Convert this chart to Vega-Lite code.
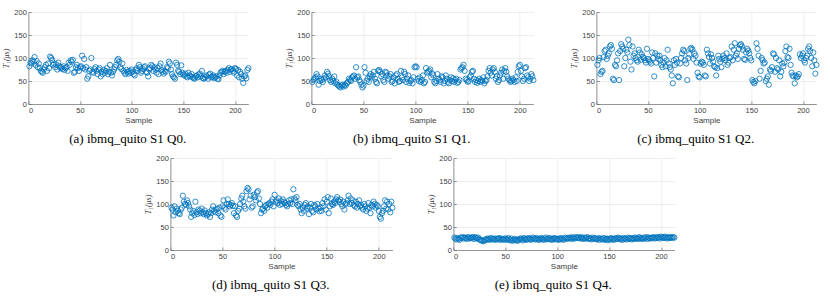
{
"$schema": "https://vega.github.io/schema/vega-lite/v6.json",
"background": "white",
"padding": {"left": 2, "top": 8, "right": 5, "bottom": 4},
"datasets": {"t1": [
{"s":1,"a":82,"b":48,"c":85,"d":92,"e":27},{"s":2,"a":90,"b":52,"c":95,"d":88,"e":25},{"s":3,"a":88,"b":55,"c":100,"d":75,"e":23},{"s":4,"a":95,"b":58,"c":65,"d":95,"e":26},{"s":5,"a":92,"b":65,"c":70,"d":82,"e":24},{"s":6,"a":102,"b":60,"c":72,"d":90,"e":22},{"s":7,"a":85,"b":42,"c":102,"d":85,"e":27},{"s":8,"a":93,"b":50,"c":115,"d":80,"e":26},{"s":9,"a":80,"b":55,"c":118,"d":78,"e":28},{"s":10,"a":88,"b":52,"c":98,"d":88,"e":25},
{"s":11,"a":78,"b":48,"c":105,"d":92,"e":27},{"s":12,"a":72,"b":55,"c":110,"d":118,"e":26},{"s":13,"a":70,"b":62,"c":125,"d":105,"e":24},{"s":14,"a":68,"b":58,"c":128,"d":100,"e":28},{"s":15,"a":75,"b":70,"c":120,"d":98,"e":27},{"s":16,"a":80,"b":66,"c":55,"d":108,"e":25},{"s":17,"a":85,"b":60,"c":52,"d":102,"e":26},{"s":18,"a":72,"b":52,"c":85,"d":95,"e":28},{"s":19,"a":88,"b":48,"c":82,"d":88,"e":27},{"s":20,"a":78,"b":55,"c":95,"d":72,"e":24},
{"s":21,"a":103,"b":50,"c":110,"d":80,"e":28},{"s":22,"a":100,"b":60,"c":52,"d":85,"e":26},{"s":23,"a":96,"b":45,"c":115,"d":76,"e":25},{"s":24,"a":85,"b":48,"c":130,"d":105,"e":27},{"s":25,"a":88,"b":42,"c":125,"d":82,"e":23},{"s":26,"a":80,"b":40,"c":120,"d":78,"e":22},{"s":27,"a":86,"b":38,"c":82,"d":88,"e":21},{"s":28,"a":75,"b":36,"c":100,"d":85,"e":20},{"s":29,"a":90,"b":40,"c":118,"d":80,"e":19},{"s":30,"a":82,"b":42,"c":112,"d":90,"e":21},
{"s":31,"a":78,"b":38,"c":140,"d":82,"e":23},{"s":32,"a":80,"b":42,"c":128,"d":78,"e":22},{"s":33,"a":76,"b":40,"c":92,"d":86,"e":25},{"s":34,"a":82,"b":45,"c":75,"d":80,"e":24},{"s":35,"a":74,"b":48,"c":125,"d":75,"e":22},{"s":36,"a":78,"b":55,"c":105,"d":78,"e":26},{"s":37,"a":80,"b":52,"c":110,"d":82,"e":23},{"s":38,"a":72,"b":50,"c":100,"d":72,"e":25},{"s":39,"a":90,"b":58,"c":95,"d":80,"e":24},{"s":40,"a":85,"b":60,"c":92,"d":88,"e":22},
{"s":41,"a":95,"b":62,"c":118,"d":95,"e":25},{"s":42,"a":92,"b":55,"c":112,"d":85,"e":23},{"s":43,"a":96,"b":80,"c":96,"d":82,"e":24},{"s":44,"a":68,"b":58,"c":108,"d":88,"e":26},{"s":45,"a":70,"b":60,"c":102,"d":90,"e":22},{"s":46,"a":80,"b":52,"c":100,"d":80,"e":25},{"s":47,"a":85,"b":48,"c":95,"d":92,"e":23},{"s":48,"a":78,"b":42,"c":90,"d":75,"e":24},{"s":49,"a":72,"b":36,"c":120,"d":72,"e":22},{"s":50,"a":80,"b":40,"c":98,"d":95,"e":25},
{"s":51,"a":82,"b":80,"c":95,"d":108,"e":24},{"s":52,"a":105,"b":68,"c":92,"d":92,"e":22},{"s":53,"a":78,"b":50,"c":88,"d":88,"e":26},{"s":54,"a":98,"b":55,"c":112,"d":100,"e":23},{"s":55,"a":75,"b":48,"c":100,"d":110,"e":21},{"s":56,"a":80,"b":60,"c":60,"d":100,"e":25},{"s":57,"a":55,"b":65,"c":110,"d":95,"e":20},{"s":58,"a":60,"b":58,"c":90,"d":98,"e":22},{"s":59,"a":72,"b":62,"c":105,"d":102,"e":24},{"s":60,"a":75,"b":70,"c":98,"d":96,"e":21},
{"s":61,"a":100,"b":55,"c":105,"d":80,"e":23},{"s":62,"a":70,"b":48,"c":95,"d":95,"e":20},{"s":63,"a":68,"b":45,"c":85,"d":75,"e":22},{"s":64,"a":76,"b":72,"c":80,"d":72,"e":24},{"s":65,"a":80,"b":74,"c":90,"d":85,"e":25},{"s":66,"a":72,"b":70,"c":100,"d":90,"e":23},{"s":67,"a":65,"b":60,"c":82,"d":100,"e":21},{"s":68,"a":75,"b":65,"c":95,"d":112,"e":26},{"s":69,"a":78,"b":52,"c":118,"d":118,"e":24},{"s":70,"a":60,"b":48,"c":88,"d":105,"e":22},
{"s":71,"a":70,"b":70,"c":80,"d":95,"e":25},{"s":72,"a":65,"b":68,"c":75,"d":90,"e":23},{"s":73,"a":74,"b":62,"c":62,"d":128,"e":26},{"s":74,"a":68,"b":55,"c":45,"d":135,"e":24},{"s":75,"a":72,"b":60,"c":95,"d":132,"e":22},{"s":76,"a":78,"b":65,"c":85,"d":110,"e":25},{"s":77,"a":65,"b":48,"c":98,"d":118,"e":27},{"s":78,"a":70,"b":50,"c":90,"d":92,"e":24},{"s":79,"a":85,"b":58,"c":60,"d":95,"e":23},{"s":80,"a":68,"b":45,"c":58,"d":120,"e":26},
{"s":81,"a":62,"b":62,"c":88,"d":115,"e":24},{"s":82,"a":70,"b":65,"c":100,"d":108,"e":22},{"s":83,"a":75,"b":55,"c":110,"d":125,"e":25},{"s":84,"a":80,"b":48,"c":118,"d":128,"e":23},{"s":85,"a":85,"b":50,"c":115,"d":112,"e":26},{"s":86,"a":95,"b":72,"c":95,"d":100,"e":24},{"s":87,"a":98,"b":58,"c":88,"d":80,"e":22},{"s":88,"a":92,"b":52,"c":52,"d":88,"e":25},{"s":89,"a":80,"b":70,"c":100,"d":90,"e":27},{"s":90,"a":76,"b":65,"c":108,"d":85,"e":23},
{"s":91,"a":88,"b":48,"c":120,"d":95,"e":24},{"s":92,"a":72,"b":55,"c":122,"d":98,"e":26},{"s":93,"a":68,"b":62,"c":118,"d":92,"e":23},{"s":94,"a":65,"b":46,"c":98,"d":100,"e":25},{"s":95,"a":74,"b":50,"c":110,"d":102,"e":22},{"s":96,"a":70,"b":52,"c":105,"d":98,"e":24},{"s":97,"a":66,"b":45,"c":90,"d":105,"e":26},{"s":98,"a":72,"b":58,"c":68,"d":110,"e":23},{"s":99,"a":68,"b":80,"c":60,"d":95,"e":25},{"s":100,"a":75,"b":82,"c":58,"d":120,"e":24},
{"s":101,"a":70,"b":80,"c":88,"d":105,"e":22},{"s":102,"a":65,"b":55,"c":92,"d":108,"e":25},{"s":103,"a":62,"b":50,"c":90,"d":102,"e":23},{"s":104,"a":74,"b":58,"c":85,"d":112,"e":26},{"s":105,"a":78,"b":48,"c":62,"d":98,"e":24},{"s":106,"a":72,"b":52,"c":60,"d":106,"e":22},{"s":107,"a":85,"b":62,"c":118,"d":100,"e":25},{"s":108,"a":80,"b":45,"c":110,"d":110,"e":27},{"s":109,"a":68,"b":48,"c":102,"d":105,"e":24},{"s":110,"a":72,"b":78,"c":88,"d":102,"e":26},
{"s":111,"a":76,"b":68,"c":108,"d":98,"e":25},{"s":112,"a":80,"b":70,"c":100,"d":95,"e":27},{"s":113,"a":82,"b":72,"c":92,"d":100,"e":26},{"s":114,"a":70,"b":75,"c":82,"d":108,"e":24},{"s":115,"a":68,"b":58,"c":80,"d":102,"e":28},{"s":116,"a":60,"b":66,"c":62,"d":110,"e":26},{"s":117,"a":75,"b":62,"c":78,"d":100,"e":25},{"s":118,"a":78,"b":48,"c":105,"d":132,"e":27},{"s":119,"a":85,"b":45,"c":98,"d":112,"e":28},{"s":120,"a":82,"b":50,"c":92,"d":108,"e":26},
{"s":121,"a":72,"b":65,"c":80,"d":115,"e":27},{"s":122,"a":80,"b":55,"c":98,"d":98,"e":25},{"s":123,"a":75,"b":52,"c":105,"d":95,"e":28},{"s":124,"a":68,"b":48,"c":100,"d":100,"e":26},{"s":125,"a":78,"b":60,"c":95,"d":88,"e":24},{"s":126,"a":65,"b":58,"c":110,"d":80,"e":27},{"s":127,"a":82,"b":45,"c":85,"d":92,"e":25},{"s":128,"a":88,"b":50,"c":90,"d":85,"e":26},{"s":129,"a":74,"b":62,"c":100,"d":98,"e":28},{"s":130,"a":70,"b":55,"c":102,"d":102,"e":24},
{"s":131,"a":66,"b":48,"c":125,"d":90,"e":26},{"s":132,"a":72,"b":45,"c":95,"d":95,"e":25},{"s":133,"a":70,"b":52,"c":118,"d":78,"e":23},{"s":134,"a":80,"b":58,"c":132,"d":92,"e":27},{"s":135,"a":78,"b":50,"c":105,"d":100,"e":24},{"s":136,"a":92,"b":56,"c":110,"d":85,"e":26},{"s":137,"a":88,"b":48,"c":98,"d":82,"e":25},{"s":138,"a":75,"b":52,"c":120,"d":98,"e":23},{"s":139,"a":65,"b":55,"c":128,"d":95,"e":24},{"s":140,"a":60,"b":46,"c":130,"d":88,"e":26},
{"s":141,"a":58,"b":48,"c":125,"d":100,"e":22},{"s":142,"a":55,"b":52,"c":118,"d":90,"e":25},{"s":143,"a":90,"b":75,"c":98,"d":84,"e":24},{"s":144,"a":85,"b":78,"c":96,"d":92,"e":23},{"s":145,"a":72,"b":80,"c":112,"d":85,"e":26},{"s":146,"a":70,"b":85,"c":120,"d":102,"e":22},{"s":147,"a":65,"b":72,"c":116,"d":95,"e":24},{"s":148,"a":84,"b":55,"c":110,"d":110,"e":25},{"s":149,"a":68,"b":52,"c":100,"d":88,"e":21},{"s":150,"a":64,"b":48,"c":95,"d":105,"e":24},
{"s":151,"a":62,"b":50,"c":52,"d":115,"e":23},{"s":152,"a":66,"b":58,"c":48,"d":80,"e":26},{"s":153,"a":60,"b":62,"c":45,"d":95,"e":24},{"s":154,"a":58,"b":70,"c":50,"d":112,"e":22},{"s":155,"a":68,"b":72,"c":132,"d":100,"e":25},{"s":156,"a":62,"b":55,"c":120,"d":98,"e":23},{"s":157,"a":60,"b":48,"c":105,"d":105,"e":26},{"s":158,"a":65,"b":52,"c":55,"d":102,"e":24},{"s":159,"a":58,"b":46,"c":72,"d":110,"e":27},{"s":160,"a":56,"b":50,"c":100,"d":115,"e":25},
{"s":161,"a":55,"b":55,"c":95,"d":108,"e":23},{"s":162,"a":60,"b":48,"c":88,"d":105,"e":25},{"s":163,"a":62,"b":52,"c":90,"d":110,"e":22},{"s":164,"a":58,"b":50,"c":50,"d":100,"e":26},{"s":165,"a":64,"b":58,"c":55,"d":95,"e":24},{"s":166,"a":66,"b":45,"c":60,"d":105,"e":25},{"s":167,"a":60,"b":50,"c":42,"d":88,"e":23},{"s":168,"a":72,"b":52,"c":75,"d":100,"e":27},{"s":169,"a":56,"b":60,"c":72,"d":102,"e":24},{"s":170,"a":55,"b":72,"c":80,"d":108,"e":26},
{"s":171,"a":58,"b":78,"c":110,"d":118,"e":25},{"s":172,"a":62,"b":68,"c":108,"d":100,"e":23},{"s":173,"a":60,"b":62,"c":70,"d":112,"e":26},{"s":174,"a":55,"b":75,"c":100,"d":102,"e":24},{"s":175,"a":64,"b":78,"c":78,"d":108,"e":27},{"s":176,"a":66,"b":70,"c":75,"d":98,"e":25},{"s":177,"a":58,"b":55,"c":95,"d":95,"e":26},{"s":178,"a":60,"b":60,"c":60,"d":105,"e":24},{"s":179,"a":62,"b":48,"c":70,"d":92,"e":28},{"s":180,"a":56,"b":52,"c":88,"d":100,"e":25},
{"s":181,"a":58,"b":62,"c":82,"d":108,"e":26},{"s":182,"a":60,"b":68,"c":90,"d":95,"e":24},{"s":183,"a":55,"b":75,"c":115,"d":98,"e":27},{"s":184,"a":54,"b":55,"c":125,"d":92,"e":25},{"s":185,"a":62,"b":72,"c":102,"d":88,"e":26},{"s":186,"a":68,"b":78,"c":100,"d":100,"e":28},{"s":187,"a":70,"b":70,"c":120,"d":95,"e":24},{"s":188,"a":72,"b":60,"c":85,"d":85,"e":27},{"s":189,"a":65,"b":55,"c":68,"d":90,"e":26},{"s":190,"a":70,"b":52,"c":62,"d":102,"e":25},
{"s":191,"a":72,"b":48,"c":60,"d":92,"e":27},{"s":192,"a":68,"b":50,"c":45,"d":80,"e":26},{"s":193,"a":74,"b":55,"c":62,"d":98,"e":28},{"s":194,"a":78,"b":52,"c":58,"d":95,"e":25},{"s":195,"a":70,"b":48,"c":60,"d":105,"e":27},{"s":196,"a":75,"b":58,"c":65,"d":100,"e":26},{"s":197,"a":76,"b":50,"c":108,"d":92,"e":28},{"s":198,"a":72,"b":70,"c":100,"d":98,"e":27},{"s":199,"a":68,"b":82,"c":105,"d":95,"e":25},{"s":200,"a":78,"b":85,"c":110,"d":85,"e":29},
{"s":201,"a":76,"b":72,"c":95,"d":72,"e":27},{"s":202,"a":62,"b":60,"c":90,"d":68,"e":28},{"s":203,"a":74,"b":50,"c":100,"d":80,"e":26},{"s":204,"a":58,"b":55,"c":105,"d":85,"e":29},{"s":205,"a":70,"b":78,"c":120,"d":95,"e":27},{"s":206,"a":65,"b":80,"c":125,"d":108,"e":25},{"s":207,"a":55,"b":62,"c":115,"d":90,"e":28},{"s":208,"a":46,"b":58,"c":100,"d":105,"e":26},{"s":209,"a":60,"b":50,"c":82,"d":88,"e":27},{"s":210,"a":62,"b":55,"c":112,"d":100,"e":28},
{"s":211,"a":56,"b":65,"c":95,"d":82,"e":26},{"s":212,"a":74,"b":60,"c":66,"d":105,"e":28},{"s":213,"a":78,"b":52,"c":85,"d":92,"e":27}
]},
"config": {
  "view": {"stroke": null},
  "axis": {
    "labelFont": "Liberation Sans", "labelFontSize": 7.5, "labelColor": "#404040", "labelPadding": 5,
    "titleFont": "Liberation Sans", "titleFontSize": 8, "titleFontWeight": "normal", "titleColor": "#404040", "titlePadding": 3,
    "gridColor": "#e3e3e3", "gridWidth": 0.6, "domainColor": "#6e6e6e", "domainWidth": 0.7,
    "ticks": true, "tickSize": -3, "tickColor": "#6e6e6e", "tickWidth": 0.7
  },
  "title": {"font": "Liberation Serif", "fontSize": 13, "fontWeight": "normal", "color": "#000000", "orient": "bottom", "offset": 8, "frame": "bounds", "anchor": "middle"},
  "point": {"shape": "circle", "filled": false, "size": 28, "strokeWidth": 0.8, "color": "#0072BD", "opacity": 1}
},
"data": {"name": "t1"},
"spacing": 8,
"center": true,
"vconcat": [
  {"spacing": 32, "hconcat": [
    {"width": 220, "height": 92, "title": "(a) ibmq_quito S1 Q0.", "mark": "point",
     "encoding": {"x": {"field": "s", "type": "quantitative", "scale": {"domain": [0, 213], "nice": false}, "axis": {"values": [0,50,100,150,200], "title": "Sample"}},
                  "y": {"field": "a", "type": "quantitative", "scale": {"domain": [0, 200]}, "axis": {"values": [0,50,100,150,200], "title": "T₁(μs)", "titleFont": "Liberation Serif", "titleFontStyle": "italic"}}}},
    {"width": 222, "height": 92, "title": "(b) ibmq_quito S1 Q1.", "mark": "point",
     "encoding": {"x": {"field": "s", "type": "quantitative", "scale": {"domain": [0, 213], "nice": false}, "axis": {"values": [0,50,100,150,200], "title": "Sample"}},
                  "y": {"field": "b", "type": "quantitative", "scale": {"domain": [0, 200]}, "axis": {"values": [0,50,100,150,200], "title": "T₁(μs)", "titleFont": "Liberation Serif", "titleFontStyle": "italic"}}}},
    {"width": 220, "height": 92, "title": "(c) ibmq_quito S1 Q2.", "mark": "point",
     "encoding": {"x": {"field": "s", "type": "quantitative", "scale": {"domain": [0, 213], "nice": false}, "axis": {"values": [0,50,100,150,200], "title": "Sample"}},
                  "y": {"field": "c", "type": "quantitative", "scale": {"domain": [0, 200]}, "axis": {"values": [0,50,100,150,200], "title": "T₁(μs)", "titleFont": "Liberation Serif", "titleFontStyle": "italic"}}}}
  ]},
  {"spacing": 30, "hconcat": [
    {"width": 222, "height": 92, "title": "(d) ibmq_quito S1 Q3.", "mark": "point",
     "encoding": {"x": {"field": "s", "type": "quantitative", "scale": {"domain": [0, 213], "nice": false}, "axis": {"values": [0,50,100,150,200], "title": "Sample"}},
                  "y": {"field": "d", "type": "quantitative", "scale": {"domain": [0, 200]}, "axis": {"values": [0,50,100,150,200], "title": "T₁(μs)", "titleFont": "Liberation Serif", "titleFontStyle": "italic"}}}},
    {"width": 221, "height": 92, "title": "(e) ibmq_quito S1 Q4.", "mark": "point",
     "encoding": {"x": {"field": "s", "type": "quantitative", "scale": {"domain": [0, 213], "nice": false}, "axis": {"values": [0,50,100,150,200], "title": "Sample"}},
                  "y": {"field": "e", "type": "quantitative", "scale": {"domain": [0, 200]}, "axis": {"values": [0,50,100,150,200], "title": "T₁(μs)", "titleFont": "Liberation Serif", "titleFontStyle": "italic"}}}}
  ]}
]
}
